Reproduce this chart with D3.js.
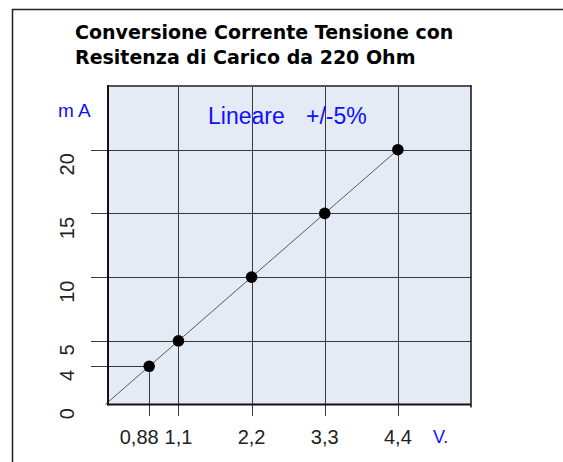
<!DOCTYPE html>
<meta charset="utf-8">
<style>
    body { margin: 0; background: #fff; }
    text { font-family: 'Liberation Sans', Arial, sans-serif; }
</style>
<svg width="563" height="462"></svg>
<script src="https://d3js.org/d3.v7.min.js"></script>
<script>

    // points as drawn on the grid (the first one sits at 0.66 V / 3 mA on the scale)
    var volts = [0.66, 1.1, 2.2, 3.3, 4.4];
    var milliamps = [3, 5, 10, 15, 20];

    var xTicks = [0.66, 1.1, 2.2, 3.3, 4.4];
    var xTickLabels = ["0,88", "1,1", "2,2", "3,3", "4,4"];
    var yTicks = [0, 3, 5, 10, 15, 20];
    var yTickLabels = ["0", "4", "5", "10", "15", "20"];

    var titleLines = ["Conversione Corrente Tensione con", "Resitenza di Carico da 220 Ohm"];

    var svg = d3.select("svg");

    var x = d3.scaleLinear().domain([0, 5.5]).range([105.3, 471]);
    var y = d3.scaleLinear().domain([0, 25]).range([404.5, 86]);

    // outer frame
    svg.append("rect")
        .attr("x", 12.5).attr("y", 9.5).attr("width", 570).attr("height", 470)
        .style("fill", "none").style("stroke", "#222").style("stroke-width", 1.5);

    // title
    svg.append("g").selectAll("text")
        .data(titleLines)
        .enter().append("text")
        .attr("x", 75)
        .attr("y", function (d, i) { return 39 + i * 25; })
        .style("font-family", "'DejaVu Sans', Verdana, sans-serif")
        .style("font-weight", "bold")
        .style("font-size", "19px")
        .style("fill", "#000")
        .text(function (d) { return d; });

    var pLeft = 108, pRight = x(5.5), pTop = y(25), pBottom = y(0);

    // plot background
    svg.append("rect")
        .attr("x", pLeft).attr("y", pTop)
        .attr("width", pRight - pLeft).attr("height", pBottom - pTop)
        .style("fill", "#e4ebf4");

    var grid = svg.append("g").style("stroke", "#3a3a3a").style("stroke-width", 1);

    // horizontal grid lines (with tick stub to the left)
    grid.selectAll("line.h")
        .data(yTicks.filter(function (d) { return d > 0; }))
        .enter().append("line")
        .attr("class", "h")
        .attr("x1", 91)
        .attr("x2", function (d, i) { return i === 0 ? x(volts[0]) : pRight; })
        .attr("y1", function (d) { return Math.round(y(d)) + 0.5; })
        .attr("y2", function (d) { return Math.round(y(d)) + 0.5; });

    // vertical grid lines (with tick stub below)
    grid.selectAll("line.v")
        .data(xTicks)
        .enter().append("line")
        .attr("class", "v")
        .attr("x1", function (d) { return Math.round(x(d)) + 0.5; })
        .attr("x2", function (d) { return Math.round(x(d)) + 0.5; })
        .attr("y1", function (d, i) { return i === 0 ? y(milliamps[0]) : pTop; })
        .attr("y2", 416);

    // plot borders
    svg.append("line").attr("x1", pLeft).attr("x2", pRight).attr("y1", pTop).attr("y2", pTop)
        .style("stroke", "#555").style("stroke-width", 2);
    svg.append("line").attr("x1", pLeft).attr("x2", pLeft).attr("y1", pTop - 1).attr("y2", pBottom + 1)
        .style("stroke", "#111").style("stroke-width", 2);
    svg.append("line").attr("x1", pLeft).attr("x2", pRight).attr("y1", pBottom).attr("y2", pBottom)
        .style("stroke", "#111").style("stroke-width", 2);
    svg.append("line").attr("x1", pRight).attr("x2", pRight).attr("y1", pTop - 1).attr("y2", pBottom + 3)
        .style("stroke", "#111").style("stroke-width", 1.5);

    // line through origin
    var lineData = [[0, 0]].concat(volts.map(function (v, i) { return [v, milliamps[i]]; }));
    svg.append("path")
        .datum(lineData)
        .attr("d", d3.line()
            .x(function (d) { return x(d[0]); })
            .y(function (d) { return y(d[1]); }))
        .style("fill", "none").style("stroke", "#333").style("stroke-width", 0.8);

    svg.append("g").selectAll("circle")
        .data(volts)
        .enter().append("circle")
        .attr("cx", function (d) { return x(d); })
        .attr("cy", function (d, i) { return y(milliamps[i]); })
        .attr("r", 5.8)
        .style("fill", "#000");

    // tick labels
    svg.append("g").selectAll("text")
        .data(xTicks)
        .enter().append("text")
        .attr("x", function (d, i) { return x(d) + (i === 0 ? -10 : 0); })
        .attr("y", 444)
        .attr("text-anchor", "middle")
        .style("font-size", "20px").style("fill", "#222")
        .text(function (d, i) { return xTickLabels[i]; });

    svg.append("g").selectAll("text")
        .data(yTicks)
        .enter().append("text")
        .attr("transform", function (d) { return "translate(74," + (y(d) + 3.5) + ") rotate(-90)"; })
        .attr("text-anchor", "end")
        .style("font-size", "20px").style("fill", "#222")
        .text(function (d, i) { return yTickLabels[i]; });

    // blue annotations
    var blue = "#1010ff";
    svg.append("text").attr("x", 58).attr("y", 117)
        .style("font-size", "19px").style("fill", blue).text("m A");
    svg.append("text").attr("x", 433).attr("y", 443)
        .style("font-size", "18px").style("fill", blue).text("V.");
    svg.append("text").attr("x", 208).attr("y", 123.5)
        .style("font-size", "23px").style("fill", blue).text("Lineare");
    svg.append("text").attr("x", 306).attr("y", 123.5)
        .style("font-size", "23px").style("fill", blue).text("+/-5%");

</script>
